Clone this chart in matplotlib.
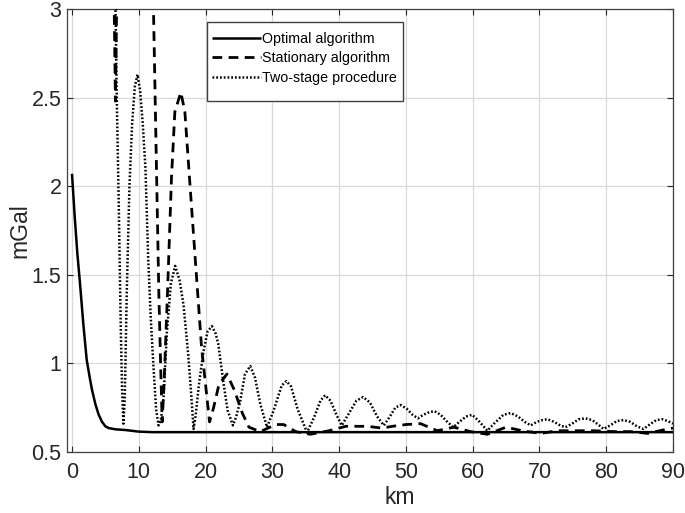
import matplotlib
matplotlib.use("Agg")
import matplotlib.pyplot as plt
from matplotlib.patches import Rectangle

plt.rcParams['font.family'] = ['Liberation Sans', 'DejaVu Sans']

# ---- data ----
opt_x = [0, 0.4, 0.8, 1.2, 1.7, 2.2, 2.7, 3.0, 3.5, 4.0, 4.5, 5.0, 5.5, 6.5, 8.0, 10.0, 12.0, 90.0]
opt_y = [2.07, 1.83, 1.62, 1.45, 1.22, 1.02, 0.91, 0.85, 0.77, 0.71, 0.67, 0.645, 0.635, 0.628, 0.624, 0.615, 0.612, 0.612]

sta_x = [5.8, 6.5, 7.2, 9.5, 11.8, 12.2, 12.6, 13.0, 13.3, 13.5, 13.8, 14.3, 14.9, 15.4, 16.3, 16.9, 17.7,
         18.7, 19.4, 20.2, 20.6, 21.2, 22.0, 23.2, 24.3, 25.5, 26.5, 28.2, 30.5, 31.7, 33.5, 35.7, 38.5,
         41.0, 44.2, 46.4, 48.0, 50.0, 52.2, 54.7, 57.2, 59.7, 62.2, 65.0, 67.4, 70.2, 72.7, 75.7, 78.2,
         81.2, 83.7, 86.2, 89.2, 90.0]
sta_y = [4.5, 2.48, 4.5, 6.0, 3.6, 3.0, 2.2, 1.4, 0.95, 0.67, 0.9, 1.4, 2.05, 2.42, 2.53, 2.42, 1.99,
         1.46, 1.09, 0.81, 0.67, 0.75, 0.88, 0.94, 0.85, 0.72, 0.64, 0.615, 0.655, 0.655, 0.615, 0.60, 0.62,
         0.645, 0.645, 0.635, 0.645, 0.655, 0.66, 0.62, 0.64, 0.615, 0.60, 0.64, 0.62, 0.605, 0.62, 0.62, 0.62,
         0.615, 0.615, 0.605, 0.63, 0.635]

two_x = [6.0, 6.4, 6.7, 7.0, 7.3, 7.5, 7.7, 7.9, 8.2, 8.6, 9.0, 9.4, 9.8, 10.2, 10.6, 11.0, 11.4, 11.8,
         12.2, 12.6, 12.95, 13.3, 13.7, 14.2, 14.8, 15.45, 16.1, 16.7, 17.4, 17.9, 18.2, 18.5, 19.0, 19.7,
         20.3, 20.95, 21.5, 21.9, 22.7, 23.3, 24.1, 24.6, 25.2, 25.9, 26.7, 27.4, 28.2, 29.2, 30.2, 31.4,
         32.1, 32.8, 33.8, 35.2, 36.3, 37.2, 37.9, 38.7, 39.6, 40.4, 41.5, 42.6, 43.6, 44.6, 45.7, 46.7,
         47.6, 48.4, 49.2, 50.1, 51.0, 51.8, 52.6, 53.5, 54.3, 55.2, 56.2, 57.1, 58.0, 59.0, 59.9, 60.8,
         61.5, 62.2, 63.2, 64.6, 65.7, 66.8, 67.8, 68.7, 69.6, 70.4, 71.2, 72.2, 73.1, 73.9, 74.9, 75.9,
         76.9, 77.9, 78.8, 79.6, 80.6, 81.6, 82.6, 83.6, 84.6, 85.6, 86.5, 87.5, 88.4, 89.2, 90.0]
two_y = [4.5, 3.3, 2.5, 1.9, 1.2, 0.85, 0.66, 0.8, 1.4, 2.0, 2.35, 2.56, 2.63, 2.54, 2.35, 2.1, 1.6, 1.25,
         0.98, 0.74, 0.65, 0.68, 0.8, 1.17, 1.45, 1.55, 1.47, 1.33, 1.05, 0.80, 0.63, 0.70, 0.88, 1.07,
         1.18, 1.21, 1.17, 1.11, 0.885, 0.735, 0.65, 0.70, 0.79, 0.94, 0.985, 0.92, 0.77, 0.64, 0.735, 0.875,
         0.90, 0.87, 0.74, 0.61, 0.70, 0.79, 0.82, 0.79, 0.71, 0.65, 0.72, 0.79, 0.81, 0.78, 0.70, 0.65,
         0.70, 0.75, 0.765, 0.745, 0.71, 0.69, 0.71, 0.725, 0.73, 0.71, 0.67, 0.64, 0.67, 0.70, 0.71, 0.68,
         0.65, 0.62, 0.66, 0.71, 0.72, 0.70, 0.67, 0.65, 0.67, 0.68, 0.685, 0.67, 0.65, 0.64, 0.66, 0.685,
         0.69, 0.68, 0.655, 0.63, 0.65, 0.675, 0.68, 0.67, 0.645, 0.63, 0.655, 0.68, 0.685, 0.675, 0.66]

labels = ["Optimal algorithm", "Stationary algorithm", "Two-stage procedure"]
x_ticks = [0, 10, 20, 30, 40, 50, 60, 70, 80, 90]
y_ticks = [0.5, 1, 1.5, 2, 2.5, 3]
y_ticklabels = ["0.5", "1", "1.5", "2", "2.5", "3"]

# ---- figure ----
W, H = 685, 513
fig = plt.figure(figsize=(6.85, 5.13), dpi=100)
top_px, bot_px, left_px, right_px = 9, 452, 67, 673
ax = fig.add_axes([left_px/W, 1-bot_px/H, (right_px-left_px)/W, (bot_px-top_px)/H])

ax.plot(opt_x, opt_y, color='black', lw=1.8, solid_capstyle='butt', label=labels[0], zorder=3)
ax.plot(sta_x, sta_y, color='black', lw=2.0, linestyle=(0, (3.5, 2.3)), label=labels[1], zorder=3)
ax.plot(two_x, two_y, color='black', lw=1.8, linestyle=(0, (0.7, 0.8)), label=labels[2], zorder=3)

ax.set_xlim(-0.75, 90)
ax.set_ylim(0.5, 3)
ax.set_xticks(x_ticks)
ax.set_yticks(y_ticks)
ax.set_yticklabels(y_ticklabels)
ax.grid(True, color='#d9d9d9', lw=0.9)
ax.set_axisbelow(True)

ax.tick_params(direction='in', length=4, width=0.8, labelsize=15.5, colors='#262626',
               top=True, right=True)
ax.tick_params(axis='x', pad=7)
ax.tick_params(axis='y', pad=4)
for s in ax.spines.values():
    s.set_color('#404040')
    s.set_linewidth(0.9)

ax.set_xlabel('km', fontsize=16.5, color='#262626')
ax.set_ylabel('mGal', fontsize=16.5, color='#262626')
ax.xaxis.set_label_coords((400-left_px)/(right_px-left_px), (bot_px-486)/(bot_px-top_px))
ax.yaxis.set_label_coords((31-left_px)/(right_px-left_px), 0.5)

# legend box (drawn separately so the padding matches the reference)
box = Rectangle((207/W, 1-101/H), (403-207)/W, (101-22)/H, transform=fig.transFigure,
                facecolor='white', edgecolor='#404040', lw=1.0, zorder=4)
fig.patches.append(box)
leg = ax.legend(loc='upper left', bbox_to_anchor=(212/W, 1-32/H), bbox_transform=fig.transFigure,
                borderaxespad=0, frameon=False, fontsize=10.3, handlelength=3.4,
                handletextpad=0.1, labelspacing=0.38, borderpad=0)
leg.set_zorder(5)
leg.remove()
fig.add_artist(leg)

fig.savefig('out.png', dpi=100)
